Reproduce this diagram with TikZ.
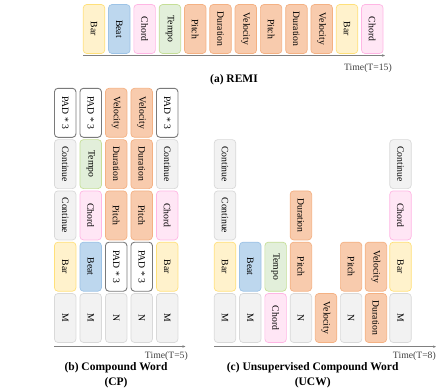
\documentclass[tikz,border=0pt]{standalone}
\usepackage{fontspec}
\setmainfont{Liberation Serif}
\usepackage{graphicx}
\usepackage{tikz}
\usetikzlibrary{positioning,arrows.meta}
\definecolor{barfill}{HTML}{FFF2CC}
\definecolor{barline}{HTML}{FFE07A}
\definecolor{beatfill}{HTML}{BDD7EE}
\definecolor{beatline}{HTML}{9DC3E6}
\definecolor{chordfill}{HTML}{FFE6F5}
\definecolor{chordline}{HTML}{FFB6E4}
\definecolor{tempofill}{HTML}{E2EFDA}
\definecolor{tempoline}{HTML}{C5DE97}
\definecolor{notefill}{HTML}{F8CBAD}
\definecolor{noteline}{HTML}{F4B183}
\definecolor{grayfill}{HTML}{F2F2F2}
\definecolor{grayline}{HTML}{D9D9D9}
\definecolor{padline}{HTML}{7A7A7A}
\definecolor{axisgray}{HTML}{808080}
\newcommand{\vtxt}[1]{\rotatebox{-90}{#1}}

\begin{document}
\begin{tikzpicture}[x=1pt,y=-1pt,every node/.style={font=\fontsize{9.7}{11}\selectfont},
    token/.style={rounded corners=3.5pt,line width=.7pt,minimum width=21.5pt,minimum height=49pt,inner sep=0pt},
    barbox/.style={token,draw=barline,fill=barfill},
    beatbox/.style={token,draw=beatline,fill=beatfill},
    chordbox/.style={token,draw=chordline,fill=chordfill},
    tempobox/.style={token,draw=tempoline,fill=tempofill},
    notebox/.style={token,draw=noteline,fill=notefill},
    graybox/.style={token,draw=grayline,fill=grayfill},
    padbox/.style={token,draw=padline,fill=white,line width=.9pt},
    axis/.style={draw=axisgray,line width=.8pt,-{Stealth[length=3pt,width=2.5pt]}},
    timelbl/.style={text=black!75,anchor=east,inner sep=0pt},
    caption/.style={font=\fontsize{11.5}{15.4}\selectfont\bfseries,align=center,inner sep=0pt}]
    \useasboundingbox (0,0) rectangle (436,391);
    % (a) REMI
    \foreach \st/\tx [count=\i] in {barbox/Bar,beatbox/Beat,chordbox/Chord,tempobox/Tempo,notebox/Pitch,notebox/Duration,
        notebox/Velocity,notebox/Pitch,notebox/Duration,notebox/Velocity,barbox/Bar,chordbox/Chord}
      \node[\st] (remi\i) at ({94+25.3*(\i-1)},29) {\vtxt{\tx}};
    \coordinate (remiT0) at (83,55.5);
    \coordinate (remiT1) at (385,55.5);
    \draw[axis] (remiT0) -- (remiT1);
    \node[timelbl] (remiTime) at (392,68.3) {Time(T=15)};
    \node[caption] (remiCap) at (234,80) {(a) REMI};
    % (b) CP
    \foreach \st/\tx [count=\j] in {graybox/M,barbox/Bar,graybox/Continue,graybox/Continue,padbox/PAD * 3}
      \node[\st] (cp1-\j) at (65.2,{318-51.3*(\j-1)}) {\vtxt{\tx}};
    \foreach \st/\tx [count=\j] in {graybox/M,beatbox/Beat,chordbox/Chord,tempobox/Tempo,padbox/PAD * 3}
      \node[\st] (cp2-\j) at (90.7,{318-51.3*(\j-1)}) {\vtxt{\tx}};
    \foreach \st/\tx [count=\j] in {graybox/N,padbox/PAD * 3,notebox/Pitch,notebox/Duration,notebox/Velocity}
      \node[\st] (cp3-\j) at (116.2,{318-51.3*(\j-1)}) {\vtxt{\tx}};
    \foreach \st/\tx [count=\j] in {graybox/N,padbox/PAD * 3,notebox/Pitch,notebox/Duration,notebox/Velocity}
      \node[\st] (cp4-\j) at (141.7,{318-51.3*(\j-1)}) {\vtxt{\tx}};
    \foreach \st/\tx [count=\j] in {graybox/M,barbox/Bar,chordbox/Chord,graybox/Continue,padbox/PAD * 3}
      \node[\st] (cp5-\j) at (167.2,{318-51.3*(\j-1)}) {\vtxt{\tx}};
    \coordinate (cpT0) at (54.3,346.5);
    \coordinate (cpT1) at (185.5,346.5);
    \draw[axis] (cpT0) -- (cpT1);
    \node[timelbl] (cpTime) at (188,355.7) {Time(T=5)};
    \node[caption] (cpCap) at (116,375) {(b) Compound Word\\(CP)};
    % (c) UCW
    \foreach \st/\tx [count=\j] in {graybox/M,barbox/Bar,graybox/Continue,graybox/Continue}
      \node[\st] (ucw1-\j) at (225,{318-51.3*(\j-1)}) {\vtxt{\tx}};
    \foreach \st/\tx [count=\j] in {graybox/M,beatbox/Beat}
      \node[\st] (ucw2-\j) at (250.3,{318-51.3*(\j-1)}) {\vtxt{\tx}};
    \foreach \st/\tx [count=\j] in {chordbox/Chord,tempobox/Tempo}
      \node[\st] (ucw3-\j) at (275.6,{318-51.3*(\j-1)}) {\vtxt{\tx}};
    \foreach \st/\tx [count=\j] in {graybox/N,notebox/Pitch,notebox/Duration}
      \node[\st] (ucw4-\j) at (300.9,{318-51.3*(\j-1)}) {\vtxt{\tx}};
    \node[notebox] (ucw5-1) at (326,318) {\vtxt{Velocity}};
    \foreach \st/\tx [count=\j] in {graybox/N,notebox/Pitch}
      \node[\st] (ucw6-\j) at (351.1,{318-51.3*(\j-1)}) {\vtxt{\tx}};
    \foreach \st/\tx [count=\j] in {notebox/Duration,notebox/Velocity}
      \node[\st] (ucw7-\j) at (375.9,{318-51.3*(\j-1)}) {\vtxt{\tx}};
    \foreach \st/\tx [count=\j] in {graybox/M,barbox/Bar,chordbox/Chord,graybox/Continue}
      \node[\st] (ucw8-\j) at (400.5,{318-51.3*(\j-1)}) {\vtxt{\tx}};
    \coordinate (ucwT0) at (214.3,346.7);
    \coordinate (ucwT1) at (436,346.7);
    \draw[axis] (ucwT0) -- (ucwT1);
    \node[timelbl] (ucwTime) at (436,356) {Time(T=8)};
    \node[caption] (ucwCap) at (312.7,375) {(c) Unsupervised Compound Word\\(UCW)};
  \end{tikzpicture}
\end{document}
